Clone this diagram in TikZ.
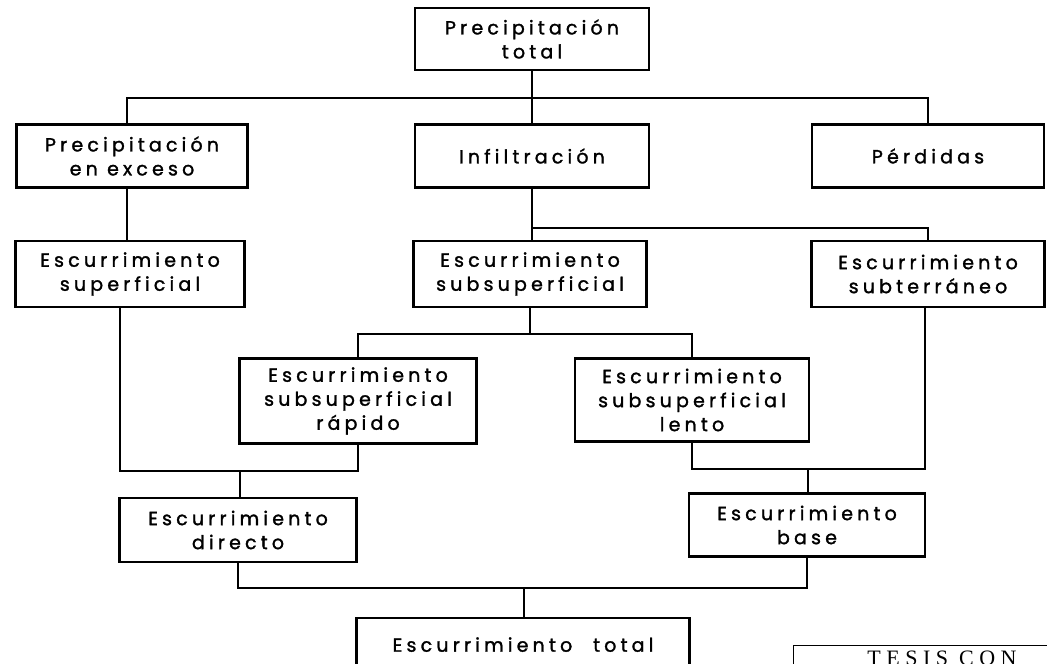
\documentclass[tikz,border=0pt]{standalone}
\usepackage{fontspec}
\setmainfont{Poppins}[LetterSpace=22, FakeBold=1.5]
\newfontfamily\stampfont{Liberation Serif}[LetterSpace=25]
\begin{document}
\begin{tikzpicture}[x=1pt,y=-1pt,
  box/.style={draw, line width=2.4pt, align=center, inner sep=0pt,
    font=\fontsize{19}{24}\selectfont},
  conn/.style={line width=1.6pt}]
\useasboundingbox (0,0) rectangle (1047,664);
\clip (0,0) rectangle (1047,664);
% boxes
\node[box, minimum width=234pt, minimum height=62pt] (ptot) at (532,39) {Precipitación\\total};
\node[box, minimum width=231pt, minimum height=63pt] (pexc) at (132,156) {Precipitación\\en exceso};
\node[box, minimum width=234pt, minimum height=63pt] (inf) at (532,156) {Infiltración};
\node[box, minimum width=232pt, minimum height=63pt] (perd) at (928,156) {Pérdidas};
\node[box, minimum width=229pt, minimum height=66pt] (esup) at (130,274) {Escurrimiento\\superficial};
\node[box, minimum width=233pt, minimum height=66pt] (esub) at (530,274) {Escurrimiento\\subsuperficial};
\node[box, minimum width=233pt, minimum height=66pt] (eter) at (928,274) {Escurrimiento\\subterráneo};
\node[box, minimum width=237pt, minimum height=85pt] (erap) at (358,401) {Escurrimiento\\subsuperficial\\rápido};
\node[box, minimum width=234pt, minimum height=83pt] (elen) at (692,400) {Escurrimiento\\subsuperficial\\lento};
\node[box, minimum width=237pt, minimum height=64pt] (edir) at (238,530) {Escurrimiento\\directo};
\node[box, minimum width=236pt, minimum height=63pt] (ebas) at (807,525) {Escurrimiento\\base};
\node[box, minimum width=333pt, minimum height=60pt, text depth=0pt] (etot) at (523,648) {\raisebox{7pt}{Escurrimiento\hspace{1.1em}total}};
% stamp
\draw[line width=1pt] (793,700) -- (793,645) -- (1060,645);
\node[font=\stampfont\fontsize{22}{24}\selectfont, anchor=north, inner sep=0pt] (stamp) at (942,651) {TESIS CON};
% junctions
\coordinate (j1) at (532,98);
\coordinate (j2) at (532,228);
\coordinate (j3) at (530,334);
\coordinate (j4) at (240,471);
\coordinate (j5) at (808,469);
\coordinate (j6) at (524,588);
% connectors
\draw[conn] (ptot.south) -- (j1);
\draw[conn] ([xshift=-5pt]pexc.north) |- (j1) -| (perd.north);
\draw[conn] (j1) -- (inf.north);
\draw[conn] (pexc.south -| 127,0) -- (esup.north -| 127,0);
\draw[conn] (inf.south) -- (inf.south |- esub.north);
\draw[conn] (j2) -| (eter.north);
\draw[conn] (esub.south) -- (j3);
\draw[conn] (erap.north) |- (j3) -| (elen.north);
\draw[conn] ([xshift=-10pt]esup.south) |- (j4) -| (erap.south);
\draw[conn] (j4) -- (j4 |- edir.north);
\draw[conn] (elen.south) |- (j5) -| ([xshift=-3pt]eter.south);
\draw[conn] (j5) -- (j5 |- ebas.north);
\draw[conn] (edir.south) |- (j6) -| (ebas.south);
\draw[conn] (j6) -- (j6 |- etot.north);
\end{tikzpicture}
\end{document}
